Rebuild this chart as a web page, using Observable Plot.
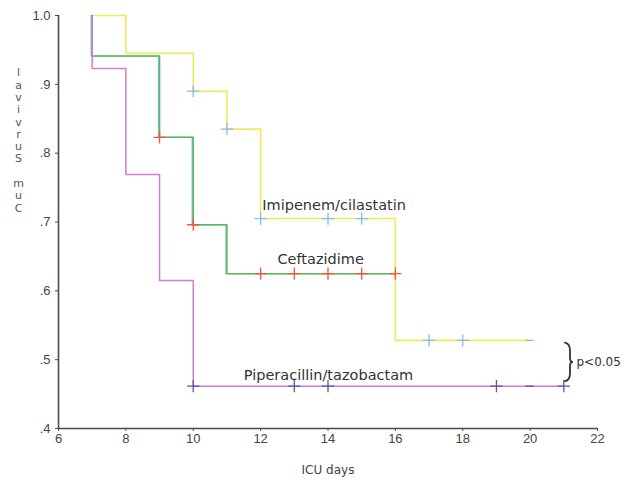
<!DOCTYPE html>
<html>
<head>
<meta charset="utf-8">
<script src="https://cdn.jsdelivr.net/npm/d3@7"></script>
<script src="https://cdn.jsdelivr.net/npm/@observablehq/plot@0.6"></script>
<style>
  html, body { margin: 0; padding: 0; background: #fff; }
  #chart svg { display: block; }
</style>
</head>
<body>
<div id="chart"></div>
<script>
// ---- Data ----
const imipenemDays = [7, 8, 10, 11, 12, 16, 20];
const imipenemSurv = [1.0, 0.945, 0.890, 0.835, 0.705, 0.528, 0.528];
const imipenemCensDays = [10, 11, 12, 14, 15, 17, 18];
const imipenemCensSurv = [0.890, 0.835, 0.705, 0.705, 0.705, 0.528, 0.528];
const imipenemEndDay = [20];
const imipenemEndSurv = [0.528];

const ceftazDays = [7, 7, 9, 10, 11, 16];
const ceftazSurv = [1.0, 0.941, 0.823, 0.696, 0.625, 0.625];
const ceftazCensDays = [9, 10, 12, 13, 14, 15, 16];
const ceftazCensSurv = [0.823, 0.696, 0.625, 0.625, 0.625, 0.625, 0.625];

const piperDays = [7, 7, 8, 9, 10, 21];
const piperSurv = [1.0, 0.923, 0.769, 0.615, 0.4615, 0.4615];
const piperCensDays = [10, 13, 14, 19, 21];
const piperCensSurv = [0.4615, 0.4615, 0.4615, 0.4615, 0.4615];
const piperEndDay = [20];
const piperEndSurv = [0.4615];

const curveLabels = ["Imipenem/cilastatin", "Ceftazidime", "Piperacillin/tazobactam"];
const curveLabelDays = [12.05, 12.5, 11.5];
const curveLabelSurv = [0.724, 0.646, 0.477];

const xTicks = [6, 8, 10, 12, 14, 16, 18, 20, 22];
const yTicks = [0.4, 0.5, 0.6, 0.7, 0.8, 0.9, 1.0];
const xTitle = "ICU days";
const yTitleChars = ["l", "a", "v", "i", "v", "r", "u", "S", "", "m", "u", "C"];
const pText = "p<0.05";
// brace spans between the two lower curves' end levels
const pBraceDay = [21.05];
const pBraceTop = [0.524];
const pBraceBottom = [0.468];

// ---- Build tables ----
const zip = (xs, ys) => xs.map((x, i) => ({x, y: ys[i]}));
const imi = zip(imipenemDays, imipenemSurv);
const imiC = zip(imipenemCensDays, imipenemCensSurv);
const imiE = zip(imipenemEndDay, imipenemEndSurv);
const cef = zip(ceftazDays, ceftazSurv);
const cefC = zip(ceftazCensDays, ceftazCensSurv);
const pip = zip(piperDays, piperSurv);
const pipC = zip(piperCensDays, piperCensSurv);
const pipE = zip(piperEndDay, piperEndSurv);
const labs = curveLabels.map((t, i) => ({t, x: curveLabelDays[i], y: curveLabelSurv[i]}));
const pRow = pBraceDay.map((x, i) => ({x, y: (pBraceTop[i] + pBraceBottom[i]) / 2}));

const YELLOW = "#eeea5a", GREEN = "#5cb85a", PINK = "#d27ccd";
const LBLUE = "#86bde0", RED = "#f2553a", DBLUE = "#5258b4";
const AXIS = "#4a4858", TXT = "#444";
const WIDE = "DejaVu Sans, Verdana, sans-serif";

const fmtY = d => d === 1 ? "1.0" : d3.format(".1f")(d).replace(/^0/, "");

const chart = Plot.plot({
  width: 630,
  height: 485,
  marginLeft: 58,
  marginRight: 33,
  marginTop: 15,
  marginBottom: 57,
  style: {fontFamily: "Liberation Sans, Arial, sans-serif", background: "#fff"},
  x: {domain: [6, 22]},
  y: {domain: [0.4, 1.0]},
  marks: [
    Plot.axisX({ticks: xTicks, tickSize: 3, tickPadding: 2, label: null, fontSize: 13, color: TXT, stroke: AXIS}),
    Plot.axisY({ticks: yTicks, tickSize: 3, tickPadding: 5, label: null, tickFormat: fmtY, fontSize: 13, color: TXT, stroke: AXIS}),
    Plot.ruleX([6], {stroke: AXIS, strokeWidth: 1.6}),
    Plot.ruleY([0.4], {stroke: AXIS, strokeWidth: 1.6}),
    // step curves
    Plot.line(imi, {x: "x", y: "y", curve: "step-after", stroke: YELLOW, strokeWidth: 1.6}),
    Plot.line(cef, {x: "x", y: "y", curve: "step-after", stroke: LBLUE, strokeWidth: 1.4, dx: -1}),
    Plot.line(cef, {x: "x", y: "y", curve: "step-after", stroke: GREEN, strokeWidth: 1.5}),
    Plot.line(pip, {x: "x", y: "y", curve: "step-after", stroke: PINK, strokeWidth: 1.5}),
    // censor marks
    Plot.dot(imiC, {x: "x", y: "y", symbol: "plus", r: 4, stroke: LBLUE, strokeWidth: 1.3}),
    Plot.ruleY(imiE, {y: "y", x1: d => d.x - 0.12, x2: d => d.x + 0.12, stroke: LBLUE, strokeWidth: 1.3}),
    Plot.dot(cefC, {x: "x", y: "y", symbol: "plus", r: 4, stroke: RED, strokeWidth: 1.3}),
    Plot.dot(pipC, {x: "x", y: "y", symbol: "plus", r: 4, stroke: DBLUE, strokeWidth: 1.3}),
    Plot.ruleY(pipE, {y: "y", x1: d => d.x - 0.12, x2: d => d.x + 0.12, stroke: DBLUE, strokeWidth: 1.3}),
    // curve labels
    Plot.text(labs, {x: "x", y: "y", text: "t", textAnchor: "start", fontSize: 14.5, fontFamily: WIDE, fill: "#333"}),
    // p-value text
    Plot.text(pRow, {x: "x", y: "y", text: () => pText, fontSize: 12, fontFamily: WIDE, fill: "#333", textAnchor: "start", dx: 11}),
    // axis titles
    Plot.text([xTitle], {frameAnchor: "bottom", dy: 45, fontSize: 12, fontFamily: WIDE, fill: TXT}),
    Plot.text([yTitleChars.join("\n")], {frameAnchor: "top-left", dx: -40, dy: 52, lineHeight: 1.12, fontSize: 11, fontFamily: WIDE, fill: "#555", textAnchor: "middle"})
  ]
});

// brace drawn from the chart's own scales
const sx = chart.scale("x"), sy = chart.scale("y");
const bx = sx.apply(pBraceDay[0]);
const by1 = sy.apply(pBraceTop[0]);
const by2 = sy.apply(pBraceBottom[0]);
const bm = (by1 + by2) / 2;
const brace = d3.path();
brace.moveTo(bx, by1);
brace.quadraticCurveTo(bx + 5, by1 + 1, bx + 5, by1 + 8);
brace.lineTo(bx + 5, bm - 4);
brace.quadraticCurveTo(bx + 5, bm, bx + 8, bm);
brace.quadraticCurveTo(bx + 5, bm, bx + 5, bm + 4);
brace.lineTo(bx + 5, by2 - 8);
brace.quadraticCurveTo(bx + 5, by2 - 1, bx, by2);
d3.select(chart).append("path")
  .attr("d", brace.toString())
  .attr("fill", "none")
  .attr("stroke", "#333")
  .attr("stroke-width", 1.8)
  .attr("stroke-linecap", "round");

document.getElementById("chart").appendChild(chart);
</script>
</body>
</html>
